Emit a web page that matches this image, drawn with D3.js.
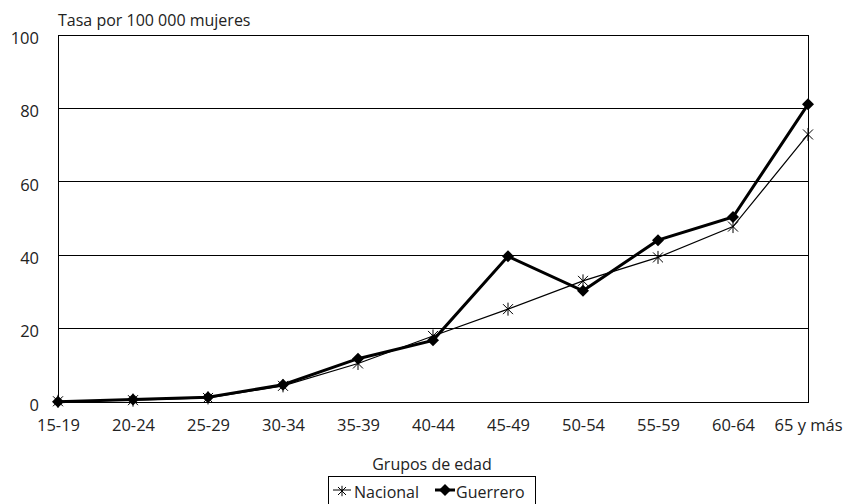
<!DOCTYPE html>
<html><head><meta charset="utf-8">
<script src="https://cdn.jsdelivr.net/npm/d3@7"></script>
<style>body{margin:0;background:#fff;} text{font-family:"Open Sans","DejaVu Sans",sans-serif;fill:#222;}</style>
</head><body>
<svg id="c" width="845" height="504"></svg>
<script>
const categories = ["15-19","20-24","25-29","30-34","35-39","40-44","45-49","50-54","55-59","60-64","65 y más"];
const nacional = [0.2,0.5,1.1,4.4,10.5,18.0,25.3,33.0,39.4,47.8,72.9];
const guerrero = [0.1,0.7,1.3,4.7,11.8,16.8,39.7,30.3,44.1,50.4,81.1];
const yTicks = [0,20,40,60,80,100];

const FONT = "'Open Sans','DejaVu Sans',sans-serif";
const svg = d3.select("#c");
const L=58,R=808,T=35,B=402;
const x = d3.scalePoint().domain(categories).range([L,R]).padding(0);
const y = d3.scaleLinear().domain([0,100]).range([B,T]);

// gridlines
svg.append("g").selectAll("line").data(yTicks.filter(d=>d>0&&d<100)).join("line")
 .attr("x1",L).attr("x2",R).attr("y1",d=>y(d)).attr("y2",d=>y(d))
 .attr("stroke","#000").attr("stroke-width",1).attr("shape-rendering","crispEdges");
// frame
svg.append("rect").attr("x",L).attr("y",T).attr("width",R-L).attr("height",B-T)
 .attr("fill","none").attr("stroke","#000").attr("stroke-width",1).attr("shape-rendering","crispEdges");

// y axis labels
const ya = svg.append("g").attr("transform",`translate(${L},3)`)
 .call(d3.axisLeft(y).tickValues(yTicks).tickSize(0).tickPadding(19));
ya.select(".domain").remove();
ya.selectAll("text").style("font-size","16.5px").style("font-family",FONT).attr("fill","#222");

// x axis labels
const xa = svg.append("g").attr("transform",`translate(0,${B})`)
 .call(d3.axisBottom(x).tickSize(0).tickPadding(17));
xa.select(".domain").remove();
xa.selectAll("text").style("font-size","16.5px").style("font-family",FONT).attr("fill","#222");

svg.append("text").attr("x",L).attr("y",26).style("font-size","16px").text("Tasa por 100 000 mujeres");
svg.append("text").attr("x",432).attr("y",470).attr("text-anchor","middle").style("font-size","16px").text("Grupos de edad");

const line = d3.line().x((d,i)=>x(categories[i])).y(d=>y(d));
svg.append("path").datum(nacional).attr("d",line).attr("fill","none").attr("stroke","#000").attr("stroke-width",1.2);
svg.append("path").datum(guerrero).attr("d",line).attr("fill","none").attr("stroke","#000").attr("stroke-width",3);

const starPath = s => `M${-s},${-s}L${s},${s}M${-s},${s}L${s},${-s}M0,${-s*1.3}L0,${s*1.3}`;
const diamond = s => `M0,${-s}L${s},0L0,${s}L${-s},0Z`;
svg.append("g").selectAll("path").data(nacional).join("path")
 .attr("transform",(d,i)=>`translate(${x(categories[i])},${y(d)})`)
 .attr("d",starPath(5)).attr("stroke","#000").attr("stroke-width",1).attr("fill","none");
svg.append("g").selectAll("path").data(guerrero).join("path")
 .attr("transform",(d,i)=>`translate(${x(categories[i])},${y(d)})`)
 .attr("d",diamond(6)).attr("fill","#000");

// legend
const lg = svg.append("g");
lg.append("rect").attr("x",328.5).attr("y",476.5).attr("width",207).attr("height",30)
 .attr("fill","#fff").attr("stroke","#000").attr("stroke-width",1);
lg.append("line").attr("x1",333).attr("x2",351).attr("y1",490).attr("y2",490).attr("stroke","#000").attr("stroke-width",1);
lg.append("path").attr("transform","translate(342,491)").attr("d",starPath(4)).attr("stroke","#000").attr("fill","none");
lg.append("text").attr("x",354).attr("y",498).style("font-size","16px").text("Nacional");
lg.append("line").attr("x1",435).attr("x2",455).attr("y1",490).attr("y2",490).attr("stroke","#000").attr("stroke-width",3);
lg.append("path").attr("transform","translate(445,490)").attr("d",diamond(6)).attr("fill","#000");
lg.append("text").attr("x",456).attr("y",498).style("font-size","16px").text("Guerrero");
</script>
</body></html>
